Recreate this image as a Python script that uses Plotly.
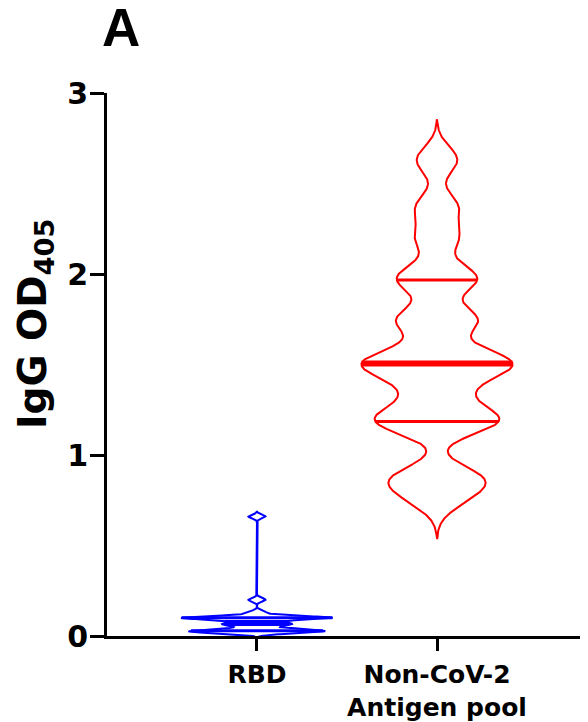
import numpy as np
import plotly.graph_objects as go

# ---- data ----
categories = ["RBD", "Non-CoV-2<br>Antigen pool"]
rbd_values = [0.018, 0.021, 0.023, 0.025, 0.026, 0.028, 0.030, 0.032, 0.035,
              0.055, 0.062, 0.066, 0.070, 0.075,
              0.097, 0.098, 0.099, 0.100, 0.100, 0.101, 0.102, 0.103, 0.104,
              0.13, 0.20, 0.66]
noncov_values = [0.76, 0.86, 0.88,
                 1.17, 1.19, 1.21,
                 1.34,
                 1.46, 1.49, 1.52, 1.55,
                 1.73, 1.76,
                 1.96, 1.99,
                 2.20, 2.37, 2.63]
bandwidths = [0.01, 0.075]
colors = ["#0000FF", "#FF0000"]
y_ticks = [0, 1, 2, 3]

HALF_W = 0.42
FONT = "DejaVu Sans"


def kde(values, h, grid):
    v = np.asarray(values)
    return np.exp(-0.5 * ((grid[:, None] - v[None, :]) / h) ** 2).sum(axis=1)


fig = go.Figure()
for pos, (vals, h, col) in enumerate(zip([rbd_values, noncov_values], bandwidths, colors)):
    vals = np.asarray(vals)
    grid = np.linspace(vals.min() - 3 * h, vals.max() + 3 * h, 800)
    dens = kde(vals, h, grid)
    dmax = dens.max()
    w = HALF_W * dens / dmax
    xs = np.concatenate([pos + w, (pos - w)[::-1], [pos + w[0]]])
    ys = np.concatenate([grid, grid[::-1], [grid[0]]])
    fig.add_trace(go.Scatter(x=xs, y=ys, mode="lines",
                             line=dict(color=col, width=2),
                             hoverinfo="skip", showlegend=False))
    q1, med, q3 = np.percentile(vals, [25, 50, 75], method="weibull")
    for q, lw in [(q1, 3), (q3, 3), (med, 6)]:
        hw = HALF_W * kde(vals, h, np.array([q]))[0] / dmax
        fig.add_trace(go.Scatter(x=[pos - hw, pos + hw], y=[q, q], mode="lines",
                                 line=dict(color=col, width=lw),
                                 hoverinfo="skip", showlegend=False))

# the page body adds an 8px offset, margins compensate for it
fig.update_layout(
    width=588, height=722,
    margin=dict(l=99, r=11, t=85, b=94),
    plot_bgcolor="white", paper_bgcolor="white",
    font=dict(family=FONT, color="black"),
    xaxis=dict(range=[-0.833, 1.822], tickvals=[0, 1], ticktext=categories,
               automargin=False,
               showline=True, linewidth=3, linecolor="black",
               ticks="outside", ticklen=12, tickwidth=3, tickcolor="black",
               ticklabelstandoff=2,
               tickfont=dict(family=FONT, size=25, weight="bold"),
               showgrid=False, zeroline=False),
    yaxis=dict(range=[0, 3], tickvals=y_ticks, automargin=False,
               showline=True, linewidth=3, linecolor="black",
               ticks="outside", ticklen=14, tickwidth=3, tickcolor="black",
               ticklabelstandoff=-4,
               tickfont=dict(family=FONT, size=30, weight="bold"),
               showgrid=False, zeroline=False),
    annotations=[
        dict(text="A", xref="paper", yref="paper",
             x=(121 - 107) / 478, y=(636 - 27) / 543,
             xanchor="center", yanchor="middle", showarrow=False,
             font=dict(family="Liberation Sans", size=53, weight="bold")),
        dict(text="IgG OD<sub>405</sub>", xref="paper", yref="paper",
             x=(35 - 107) / 478, y=(636 - 324) / 543, textangle=-90,
             xanchor="center", yanchor="middle", showarrow=False,
             font=dict(family=FONT, size=39, weight="bold")),
    ],
)

fig.write_html("out.html")
